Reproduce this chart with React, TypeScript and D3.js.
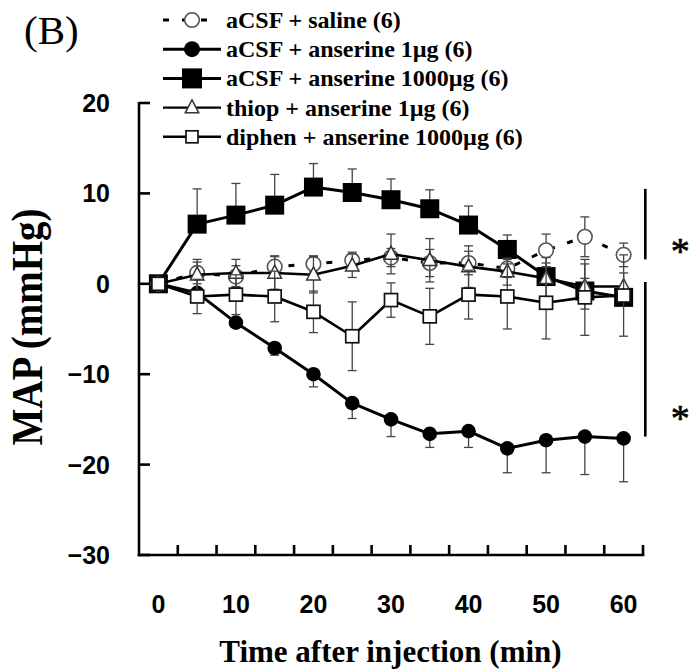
import React from 'react';
import * as d3 from 'd3';

// ---- data ----
const times = [0, 5, 10, 15, 20, 25, 30, 35, 40, 45, 50, 55, 60];

const salineMean = [0, 1.2, 0.8, 1.9, 2.2, 2.6, 2.9, 2.3, 2.3, 1.7, 3.7, 5.2, 3.2];
const salineErr = [0, 1.2, 1.2, 1.2, 0.9, 0.9, 1.0, 1.5, 1.3, 1.0, 1.8, 2.2, 1.3];

const ans1Mean = [0, -1.0, -4.3, -7.1, -10.0, -13.2, -15.0, -16.6, -16.3, -18.2, -17.3, -16.9, -17.1];
const ans1Err = [0, 0.4, 0.5, 0.8, 1.4, 1.7, 1.9, 1.5, 1.8, 2.7, 3.6, 4.2, 4.8];

const ans1000Mean = [0, 6.6, 7.6, 8.7, 10.7, 10.1, 9.3, 8.3, 6.5, 3.8, 0.8, -0.8, -1.5];
const ans1000Err = [0, 3.9, 3.5, 3.4, 2.6, 2.6, 2.3, 2.1, 2.1, 1.6, 1.5, 1.4, 1.2];

const thiopMean = [0, 1.0, 1.2, 1.2, 1.0, 2.0, 3.3, 2.6, 1.9, 1.35, 0.6, -0.3, -0.3];
const thiopErr = [0, 1.7, 1.5, 1.8, 2.0, 1.3, 2.2, 2.4, 2.3, 1.5, 2.3, 2.5, 1.5];

const diphenMean = [0, -1.4, -1.2, -1.4, -3.1, -5.8, -1.8, -3.6, -1.2, -1.4, -2.1, -1.5, -1.3];
const diphenErr = [0, 1.9, 2.2, 2.8, 2.3, 3.8, 1.9, 3.1, 2.7, 3.6, 4.0, 4.2, 4.5];

const yTicks = [20, 10, 0, -10, -20, -30];
const xLabels = [0, 10, 20, 30, 40, 50, 60];

const legendLabels = [
  'aCSF + saline (6)',
  'aCSF + anserine 1µg (6)',
  'aCSF + anserine 1000µg (6)',
  'thiop + anserine 1µg (6)',
  'diphen + anserine 1000µg (6)',
];

// significance brackets: value ranges (mmHg) and asterisk levels
const sigFrom = [10.5, 0.2];
const sigTo = [2.7, -16.9];
const sigStarAt = [4.3, -14.2];

type Marker = 'openCircle' | 'filledCircle' | 'filledSquare' | 'openTriangle' | 'openSquare';
interface Series {
  label: string;
  mean: number[];
  err: number[];
  dir: 'up' | 'down' | 'both';
  marker: Marker;
  dash?: string;
  lw: number;
}

const seriesDraw: Series[] = [
  { label: legendLabels[2], mean: ans1000Mean, err: ans1000Err, dir: 'up', marker: 'filledSquare', lw: 3 },
  { label: legendLabels[1], mean: ans1Mean, err: ans1Err, dir: 'down', marker: 'filledCircle', lw: 3 },
  { label: legendLabels[0], mean: salineMean, err: salineErr, dir: 'both', marker: 'openCircle', dash: '6,13', lw: 3 },
  { label: legendLabels[3], mean: thiopMean, err: thiopErr, dir: 'both', marker: 'openTriangle', lw: 2.6 },
  { label: legendLabels[4], mean: diphenMean, err: diphenErr, dir: 'both', marker: 'openSquare', lw: 2.6 },
];

function MarkerShape({ kind, cx, cy, big = false }: { kind: Marker; cx: number; cy: number; big?: boolean }) {
  switch (kind) {
    case 'filledSquare': {
      const s = big ? 20 : 19;
      return <rect x={cx - s / 2} y={cy - s / 2} width={s} height={s} fill="#000" />;
    }
    case 'filledCircle':
      return <circle cx={cx} cy={cy} r={big ? 8 : 7.3} fill="#000" />;
    case 'openCircle':
      return <circle cx={cx} cy={cy} r={7.3} fill="#fff" stroke="#555" strokeWidth={1.6} />;
    case 'openTriangle': {
      const w = 13.5;
      const h = 13;
      const p = `M${cx},${cy - h * 0.6}L${cx + w / 2},${cy + h * 0.4}L${cx - w / 2},${cy + h * 0.4}Z`;
      return <path d={p} fill="#fff" stroke="#333" strokeWidth={1.5} />;
    }
    case 'openSquare': {
      const s = big ? 12 : 13;
      return <rect x={cx - s / 2} y={cy - s / 2} width={s} height={s} fill="#fff" stroke="#111" strokeWidth={1.7} />;
    }
  }
  return null;
}

export default function App() {
  const W = 691;
  const H = 671;
  const x = d3.scaleLinear().domain([-2.5, 62.5]).range([139, 643]);
  const y = d3.scaleLinear().domain([-30, 20]).range([555, 103]);
  const line = d3
    .line<number>()
    .x((_, i) => x(times[i]))
    .y((d) => y(d));

  const boundaries = d3.range(2.5, 62.6, 5);
  const serif = '"Liberation Serif", "Times New Roman", serif';
  const sans = '"Liberation Sans", Arial, sans-serif';
  const cap = 4.5;

  return (
    <svg width={W} height={H} style={{ position: 'absolute', left: 0, top: 0, background: '#fff' }}>
      <rect x={0} y={0} width={W} height={H} fill="#fff" />
      {/* panel label */}
      <text x={24} y={44} fontFamily={serif} fontSize={41}>(B)</text>

      {/* axes */}
      <g stroke="#000" strokeWidth={2.6} fill="none">
        <line x1={x(-2.5)} y1={y(20) - 1} x2={x(-2.5)} y2={y(-30) + 1.3} />
        <line x1={x(-2.5) - 1.3} y1={y(-30)} x2={x(62.5) + 1.3} y2={y(-30)} />
        {yTicks.map((t) => (
          <line key={t} x1={x(-2.5)} x2={x(-2.5) + 11} y1={y(t)} y2={y(t)} />
        ))}
        {boundaries.map((b) => (
          <line key={b} x1={x(b)} x2={x(b)} y1={y(-30)} y2={y(-30) - 10} />
        ))}
      </g>
      {yTicks.map((t) => (
        <text key={t} x={110} y={y(t) + 9} textAnchor="end" fontFamily={sans} fontWeight="bold" fontSize={25}>
          {t < 0 ? `\u2212${Math.abs(t)}` : `${t}`}
        </text>
      ))}
      {xLabels.map((t) => (
        <text key={t} x={x(t)} y={612.5} textAnchor="middle" fontFamily={sans} fontWeight="bold" fontSize={25}>
          {t}
        </text>
      ))}
      <text x={390.5} y={661.5} textAnchor="middle" fontFamily={serif} fontWeight="bold" fontSize={31}>
        Time after injection (min)
      </text>
      <g transform="translate(42,327) rotate(-90) scale(1,1.12)">
        <text x={0} y={0} textAnchor="middle" fontFamily={serif} fontWeight="bold" fontSize={39}>
          MAP (mmHg)
        </text>
      </g>

      {/* series */}
      {seriesDraw.map((s) => (
        <g key={s.label}>
          <path d={line(s.mean) || ''} fill="none" stroke="#000" strokeWidth={s.lw} strokeDasharray={s.dash} strokeLinejoin="round" />
          <g stroke="#444" strokeWidth={1.3}>
            {s.mean.map((m, i) => {
              if (!s.err[i]) return null;
              const cx = x(times[i]);
              const top = s.dir === 'down' ? m : m + s.err[i];
              const bot = s.dir === 'up' ? m : m - s.err[i];
              return (
                <g key={i}>
                  <line x1={cx} x2={cx} y1={y(top)} y2={y(bot)} />
                  {s.dir !== 'down' && <line x1={cx - cap} x2={cx + cap} y1={y(top)} y2={y(top)} />}
                  {s.dir !== 'up' && <line x1={cx - cap} x2={cx + cap} y1={y(bot)} y2={y(bot)} />}
                </g>
              );
            })}
          </g>
          {s.mean.map((m, i) => (
            <MarkerShape key={i} kind={s.marker} cx={x(times[i])} cy={y(m)} />
          ))}
        </g>
      ))}

      {/* significance bars */}
      {sigFrom.map((f, i) => (
        <g key={i}>
          <line x1={x(62.8)} x2={x(62.8)} y1={y(f)} y2={y(sigTo[i])} stroke="#000" strokeWidth={2.6} />
          <text
            x={x(67.3)}
            y={y(sigStarAt[i]) + 19}
            textAnchor="middle"
            fontFamily={serif}
            fontSize={38}
            stroke="#000"
            strokeWidth={0.6}
          >
            *
          </text>
        </g>
      ))}

      {/* legend */}
      {legendLabels.map((lab, i) => {
        const ry = 20 + i * 29.2;
        const kinds: Marker[] = ['openCircle', 'filledCircle', 'filledSquare', 'openTriangle', 'openSquare'];
        const lws = [3, 3, 3, 2.4, 2.4];
        return (
          <g key={lab}>
            <line
              x1={163}
              x2={i === 0 ? 214 : 221}
              y1={ry}
              y2={ry}
              stroke="#000"
              strokeWidth={lws[i]}
              strokeDasharray={i === 0 ? '6,13' : undefined}
            />
            <MarkerShape kind={kinds[i]} cx={192} cy={ry} big />
            <text x={226} y={ry + 8} fontFamily={serif} fontWeight="bold" fontSize={24}>
              {lab}
            </text>
          </g>
        );
      })}
    </svg>
  );
}
